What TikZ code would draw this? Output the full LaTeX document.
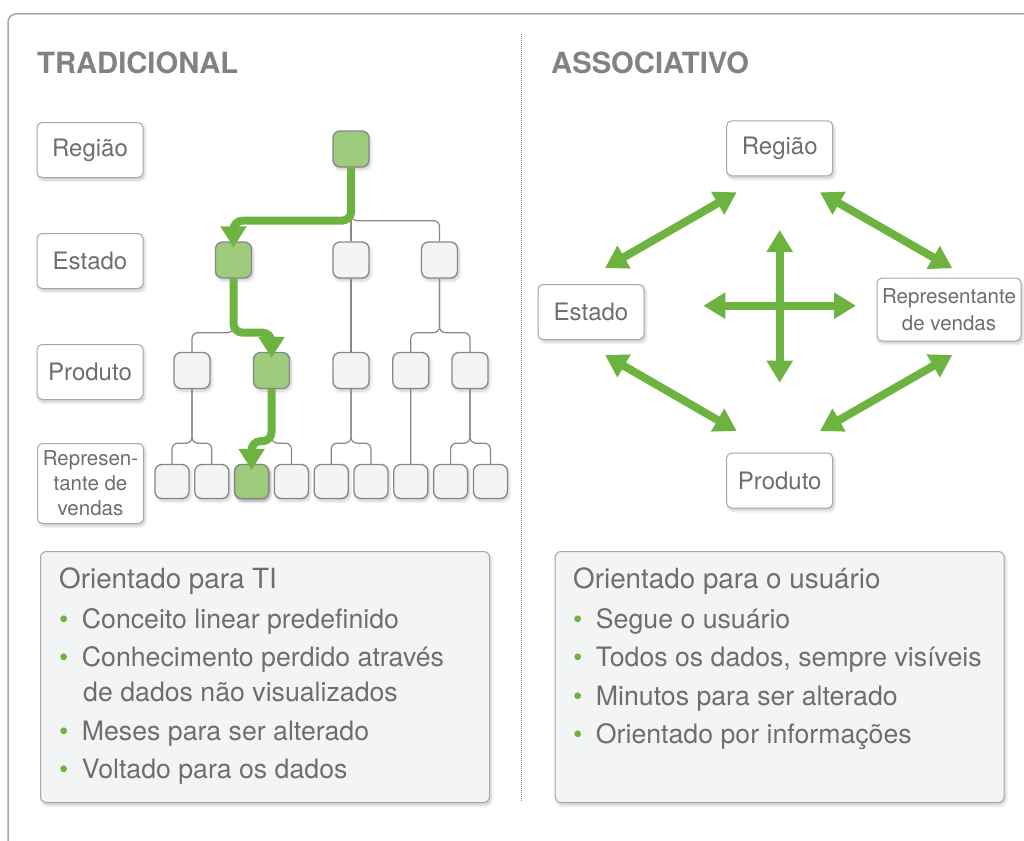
\documentclass[tikz,border=0pt]{standalone}
\usepackage{fontspec}
\setmainfont{TeX Gyre Heros}
\usetikzlibrary{arrows.meta,shadows.blur}

\definecolor{txtgray}{RGB}{109,110,113}
\definecolor{headgray}{RGB}{128,130,133}
\definecolor{linegray}{RGB}{134,135,138}
\definecolor{framegray}{RGB}{165,167,170}
\definecolor{boxfill}{RGB}{243,244,244}
\definecolor{qgreen}{RGB}{108,179,63}
\definecolor{qlight}{RGB}{158,203,124}

\newcommand{\greenbul}{\makebox[22.7pt][l]{\textcolor{qgreen}{\textbullet}}}

\begin{document}
\begin{tikzpicture}[x=1pt,y=-1pt,
  shadowed/.style={blur shadow={shadow xshift=1.5pt,shadow yshift=-2.5pt,shadow blur radius=3pt,shadow blur steps=6,shadow opacity=22}},
  lvlbox/.style={draw=framegray,line width=1pt,fill=white,rounded corners=5pt,minimum width=106pt,minimum height=55pt,inner sep=1pt,text=txtgray,font=\fontsize{24}{27}\selectfont,align=center,shadowed},
  cell/.style={draw=linegray,line width=1.3pt,fill=boxfill,rounded corners=7pt,minimum size=36pt,inner sep=0pt,shadowed},
  leaf/.style={cell,minimum size=34pt},
  hit/.style={fill=qlight},
  treeline/.style={draw=linegray,line width=1.2pt,rounded corners=6pt},
  greenpath/.style={draw=qgreen,line width=8pt,rounded corners=9pt,-{Triangle[length=21pt,width=25pt]},shorten >=-6pt},
  bothway/.style={draw=qgreen,line width=8pt,{Triangle[length=22pt,width=25pt]}-{Triangle[length=22pt,width=25pt]}},
  infobox/.style={draw=framegray,line width=1pt,fill=boxfill,rounded corners=6pt,minimum width=449pt,minimum height=251pt,anchor=north west,shadowed},
  infotext/.style={anchor=north west,inner sep=0pt,align=left,text=txtgray,font=\fontsize{26.7}{38.5}\selectfont},
  heading/.style={anchor=base west,inner sep=0pt,text=headgray,font=\fontsize{29.2}{30}\selectfont\bfseries}]
  \useasboundingbox (0,0) rectangle (1024,840);
  \clip (0,0) rectangle (1024,840);

  % frame and divider
  \draw[framegray,line width=1.5pt,rounded corners=8pt] (8,14) rectangle (1040,860);
  \draw[linegray,line width=0.8pt,dash pattern=on 0.8pt off 1.2pt] (521,34) -- (521,802);

  \node[heading] (trad) at (37,74) {TRADICIONAL};
  \node[heading] (assoc) at (551,74) {ASSOCIATIVO};

  % level labels
  \node[lvlbox] (lreg) at (90,150) {Região};
  \node[lvlbox] (lest) at (90,261) {Estado};
  \node[lvlbox] (lprod) at (90,372) {Produto};
  \node[lvlbox,minimum height=80pt,font=\fontsize{20.5}{25}\selectfont] (lvend) at (90.5,483.5) {Represen-\\tante de\\vendas};

  % tree
  \node[cell,hit] (rg) at (351,149) {};
  \node[cell,hit] (e1) at (233.5,260) {};
  \node[cell] (e2) at (351,260) {};
  \node[cell] (e3) at (439.5,260) {};
  \node[cell] (p1) at (192,370.5) {};
  \node[cell,hit] (p2) at (271.5,370.5) {};
  \node[cell] (p3) at (351,370.5) {};
  \node[cell] (p4) at (410.8,370.5) {};
  \node[cell] (p5) at (470,370.5) {};
  \foreach \i in {1,...,9}
    \node[leaf] (v\i) at (172+39.8*\i-39.8,481.5) {};
  \node[leaf,hit] at (v3) {};

  \draw[treeline] (rg.south) -- ++(0,53) -| (e2.north);
  \draw[treeline] (rg.south) -- ++(0,53) -| (e3.north);
  \draw[treeline] (e1.south) -- ++(0,54) -| (p1.north);
  \draw[treeline] (e2.south) -- (p3.north);
  \draw[treeline] (e3.south) -- ++(0,54) -| (p4.north);
  \draw[treeline] (e3.south) -- ++(0,54) -| (p5.north);
  \draw[treeline] (p1.south) -- ++(0,54) -| (v1.north);
  \draw[treeline] (p1.south) -- ++(0,54) -| (v2.north);
  \draw[treeline] (p2.south) -- ++(0,54) -| (v4.north);
  \draw[treeline] (p3.south) -- ++(0,54) -| (v5.north);
  \draw[treeline] (p3.south) -- ++(0,54) -| (v6.north);
  \draw[treeline] (p4.south) -- (v7.north);
  \draw[treeline] (p5.south) -- ++(0,54) -| (v8.north);
  \draw[treeline] (p5.south) -- ++(0,54) -| (v9.north);

  % drill path
  \draw[greenpath] (rg.south) -- ++(0,53) -| (e1.north);
  \draw[greenpath] (e1.south) -- ++(0,54) -| (p2.north);
  \draw[greenpath] (p2.south) -- ++(0,52) -| (v3.north);

  % associative side
  \node[lvlbox] (areg) at (779.7,148.3) {Região};
  \node[lvlbox] (aest) at (591,312) {Estado};
  \node[lvlbox,minimum width=144pt,minimum height=63pt,font=\fontsize{20.5}{26.5}\selectfont] (avend) at (949,309.5) {Representante\\de vendas};
  \node[lvlbox] (aprod) at (779.7,480.5) {Produto};

  \coordinate (nwa) at (605,268);   \coordinate (nwb) at (736.7,192.3);
  \coordinate (nea) at (820,192.3); \coordinate (neb) at (952.3,268.3);
  \coordinate (swa) at (605,355);   \coordinate (swb) at (736.7,431);
  \coordinate (sea) at (952.3,355); \coordinate (seb) at (820,431);
  \coordinate (up) at (779.7,230);  \coordinate (down) at (779.7,382.7);
  \coordinate (left) at (703.3,305.7); \coordinate (right) at (856,305.7);

  \draw[bothway] (nwa) -- (nwb);
  \draw[bothway] (nea) -- (neb);
  \draw[bothway] (swa) -- (swb);
  \draw[bothway] (sea) -- (seb);
  \draw[bothway] (up) -- (down);
  \draw[bothway] (left) -- (right);

  % summaries
  \node[infobox] (tibox) at (40,551) {};
  \node[infotext] (titext) at (59,568) {{\fontsize{27.8}{38.5}\selectfont Orientado para TI}\\[1pt]
    \greenbul Conceito linear predefinido\\
    \greenbul Conhecimento perdido através\\[-3.5pt]
    \hspace*{24pt}de dados não visualizados\\
    \greenbul Meses para ser alterado\\
    \greenbul Voltado para os dados};

  \node[infobox] (userbox) at (554.7,551) {};
  \node[infotext] (usertext) at (573,568) {{\fontsize{27.8}{38.5}\selectfont Orientado para o usuário}\\[1pt]
    \greenbul Segue o usuário\\
    \greenbul Todos os dados, sempre visíveis\\
    \greenbul Minutos para ser alterado\\
    \greenbul Orientado por informações};
\end{tikzpicture}
\end{document}
